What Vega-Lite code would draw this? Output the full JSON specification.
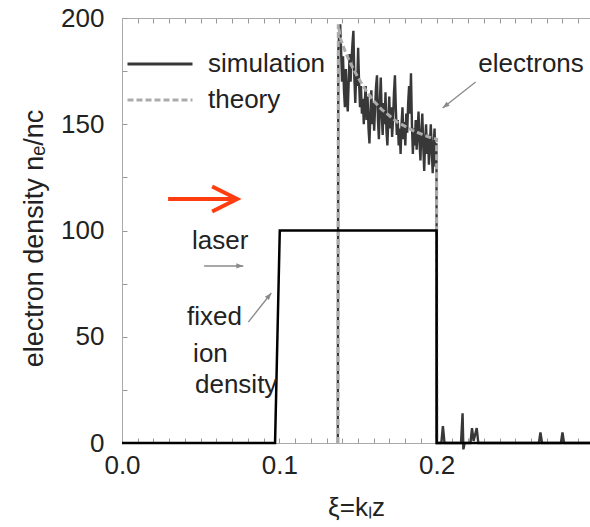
{
  "$schema": "https://vega.github.io/schema/vega-lite/v6.json",
  "width": 468,
  "height": 425,
  "autosize": {"type": "none"},
  "padding": {"left": 122, "top": 18, "right": 0, "bottom": 84},
  "background": "white",
  "config": {
    "font": "Liberation Sans",
    "view": {"stroke": null},
    "axis": {
      "labelFont": "Liberation Sans",
      "titleFont": "Liberation Sans",
      "labelFontSize": 26,
      "titleFontSize": 26,
      "titleFontWeight": "normal",
      "labelColor": "#222",
      "titleColor": "#222",
      "domainColor": "#aaaaaa",
      "tickColor": "#999999",
      "grid": false
    }
  },
  "datasets": {
    "lines": [
      {"s": "simulation", "xi": 0.1372, "n": 0},
      {"s": "simulation", "xi": 0.1375, "n": 185},
      {"s": "simulation", "xi": 0.1381, "n": 193},
      {"s": "simulation", "xi": 0.1387, "n": 197},
      {"s": "simulation", "xi": 0.1393, "n": 184},
      {"s": "simulation", "xi": 0.1399, "n": 170},
      {"s": "simulation", "xi": 0.1405, "n": 182},
      {"s": "simulation", "xi": 0.1411, "n": 166},
      {"s": "simulation", "xi": 0.1417, "n": 158},
      {"s": "simulation", "xi": 0.1423, "n": 176},
      {"s": "simulation", "xi": 0.1429, "n": 163},
      {"s": "simulation", "xi": 0.1435, "n": 156},
      {"s": "simulation", "xi": 0.1441, "n": 170},
      {"s": "simulation", "xi": 0.1447, "n": 183},
      {"s": "simulation", "xi": 0.1453, "n": 170},
      {"s": "simulation", "xi": 0.1459, "n": 180},
      {"s": "simulation", "xi": 0.1465, "n": 188},
      {"s": "simulation", "xi": 0.1471, "n": 194},
      {"s": "simulation", "xi": 0.1477, "n": 172},
      {"s": "simulation", "xi": 0.1483, "n": 160},
      {"s": "simulation", "xi": 0.1489, "n": 175},
      {"s": "simulation", "xi": 0.1495, "n": 168},
      {"s": "simulation", "xi": 0.1501, "n": 186},
      {"s": "simulation", "xi": 0.1507, "n": 170},
      {"s": "simulation", "xi": 0.1513, "n": 158},
      {"s": "simulation", "xi": 0.1519, "n": 168},
      {"s": "simulation", "xi": 0.1525, "n": 155},
      {"s": "simulation", "xi": 0.1531, "n": 162},
      {"s": "simulation", "xi": 0.1537, "n": 150},
      {"s": "simulation", "xi": 0.1543, "n": 160},
      {"s": "simulation", "xi": 0.1549, "n": 168},
      {"s": "simulation", "xi": 0.1555, "n": 152},
      {"s": "simulation", "xi": 0.1561, "n": 163},
      {"s": "simulation", "xi": 0.1567, "n": 148},
      {"s": "simulation", "xi": 0.1573, "n": 141},
      {"s": "simulation", "xi": 0.1579, "n": 155},
      {"s": "simulation", "xi": 0.1585, "n": 166},
      {"s": "simulation", "xi": 0.1591, "n": 150},
      {"s": "simulation", "xi": 0.1597, "n": 160},
      {"s": "simulation", "xi": 0.1603, "n": 147},
      {"s": "simulation", "xi": 0.1609, "n": 158},
      {"s": "simulation", "xi": 0.1615, "n": 168},
      {"s": "simulation", "xi": 0.1621, "n": 173},
      {"s": "simulation", "xi": 0.1627, "n": 152},
      {"s": "simulation", "xi": 0.1633, "n": 143},
      {"s": "simulation", "xi": 0.1639, "n": 160},
      {"s": "simulation", "xi": 0.1645, "n": 172},
      {"s": "simulation", "xi": 0.1651, "n": 155},
      {"s": "simulation", "xi": 0.1657, "n": 145},
      {"s": "simulation", "xi": 0.1663, "n": 160},
      {"s": "simulation", "xi": 0.1669, "n": 150},
      {"s": "simulation", "xi": 0.1675, "n": 165},
      {"s": "simulation", "xi": 0.1681, "n": 147},
      {"s": "simulation", "xi": 0.1687, "n": 140},
      {"s": "simulation", "xi": 0.1693, "n": 152},
      {"s": "simulation", "xi": 0.1699, "n": 163},
      {"s": "simulation", "xi": 0.1705, "n": 148},
      {"s": "simulation", "xi": 0.1711, "n": 158},
      {"s": "simulation", "xi": 0.1717, "n": 144},
      {"s": "simulation", "xi": 0.1723, "n": 152},
      {"s": "simulation", "xi": 0.1729, "n": 165},
      {"s": "simulation", "xi": 0.1735, "n": 173},
      {"s": "simulation", "xi": 0.1741, "n": 157},
      {"s": "simulation", "xi": 0.1747, "n": 145},
      {"s": "simulation", "xi": 0.1753, "n": 152},
      {"s": "simulation", "xi": 0.1759, "n": 140},
      {"s": "simulation", "xi": 0.1765, "n": 148},
      {"s": "simulation", "xi": 0.1771, "n": 136},
      {"s": "simulation", "xi": 0.1777, "n": 150},
      {"s": "simulation", "xi": 0.1783, "n": 158},
      {"s": "simulation", "xi": 0.1789, "n": 143},
      {"s": "simulation", "xi": 0.1795, "n": 151},
      {"s": "simulation", "xi": 0.1801, "n": 140},
      {"s": "simulation", "xi": 0.1807, "n": 155},
      {"s": "simulation", "xi": 0.1813, "n": 146},
      {"s": "simulation", "xi": 0.1819, "n": 160},
      {"s": "simulation", "xi": 0.1825, "n": 168},
      {"s": "simulation", "xi": 0.1831, "n": 155},
      {"s": "simulation", "xi": 0.1837, "n": 174},
      {"s": "simulation", "xi": 0.1843, "n": 150},
      {"s": "simulation", "xi": 0.1849, "n": 136},
      {"s": "simulation", "xi": 0.1855, "n": 148},
      {"s": "simulation", "xi": 0.1861, "n": 140},
      {"s": "simulation", "xi": 0.1867, "n": 152},
      {"s": "simulation", "xi": 0.1873, "n": 138},
      {"s": "simulation", "xi": 0.1879, "n": 147},
      {"s": "simulation", "xi": 0.1885, "n": 156},
      {"s": "simulation", "xi": 0.1891, "n": 142},
      {"s": "simulation", "xi": 0.1897, "n": 133},
      {"s": "simulation", "xi": 0.1903, "n": 146},
      {"s": "simulation", "xi": 0.1909, "n": 155},
      {"s": "simulation", "xi": 0.1915, "n": 140},
      {"s": "simulation", "xi": 0.1921, "n": 128},
      {"s": "simulation", "xi": 0.1927, "n": 142},
      {"s": "simulation", "xi": 0.1933, "n": 150},
      {"s": "simulation", "xi": 0.1939, "n": 136},
      {"s": "simulation", "xi": 0.1945, "n": 145},
      {"s": "simulation", "xi": 0.1951, "n": 131},
      {"s": "simulation", "xi": 0.1957, "n": 140},
      {"s": "simulation", "xi": 0.1963, "n": 150},
      {"s": "simulation", "xi": 0.1969, "n": 138},
      {"s": "simulation", "xi": 0.1975, "n": 127},
      {"s": "simulation", "xi": 0.1981, "n": 140},
      {"s": "simulation", "xi": 0.1987, "n": 148},
      {"s": "simulation", "xi": 0.1993, "n": 130},
      {"s": "simulation", "xi": 0.1999, "n": 141},
      {"s": "simulation", "xi": 0.2002, "n": 0},
      {"s": "simulation", "xi": 0.2030, "n": 0},
      {"s": "simulation", "xi": 0.2040, "n": 8},
      {"s": "simulation", "xi": 0.2050, "n": 0},
      {"s": "simulation", "xi": 0.2155, "n": 0},
      {"s": "simulation", "xi": 0.2165, "n": 14},
      {"s": "simulation", "xi": 0.2170, "n": -3},
      {"s": "simulation", "xi": 0.2178, "n": 0},
      {"s": "simulation", "xi": 0.2215, "n": 0},
      {"s": "simulation", "xi": 0.2225, "n": 7},
      {"s": "simulation", "xi": 0.2235, "n": 1},
      {"s": "simulation", "xi": 0.2255, "n": 7},
      {"s": "simulation", "xi": 0.2265, "n": 0},
      {"s": "simulation", "xi": 0.2650, "n": 0},
      {"s": "simulation", "xi": 0.2660, "n": 5},
      {"s": "simulation", "xi": 0.2670, "n": 0},
      {"s": "simulation", "xi": 0.2790, "n": 0},
      {"s": "simulation", "xi": 0.2800, "n": 5},
      {"s": "simulation", "xi": 0.2810, "n": 0},
      {"s": "simulation", "xi": 0.2975, "n": 0},
      {"s": "theory", "xi": 0.1373, "n": 0},
      {"s": "theory", "xi": 0.1375, "n": 197},
      {"s": "theory", "xi": 0.1390, "n": 190},
      {"s": "theory", "xi": 0.1420, "n": 184},
      {"s": "theory", "xi": 0.1450, "n": 179},
      {"s": "theory", "xi": 0.1500, "n": 172},
      {"s": "theory", "xi": 0.1550, "n": 166},
      {"s": "theory", "xi": 0.1600, "n": 161},
      {"s": "theory", "xi": 0.1650, "n": 157},
      {"s": "theory", "xi": 0.1700, "n": 154},
      {"s": "theory", "xi": 0.1750, "n": 151},
      {"s": "theory", "xi": 0.1800, "n": 149},
      {"s": "theory", "xi": 0.1850, "n": 147},
      {"s": "theory", "xi": 0.1900, "n": 145.5},
      {"s": "theory", "xi": 0.1950, "n": 144},
      {"s": "theory", "xi": 0.2000, "n": 143},
      {"s": "theory", "xi": 0.2001, "n": 0},
      {"s": "ion", "xi": 0.0, "n": 0},
      {"s": "ion", "xi": 0.0973, "n": 0},
      {"s": "ion", "xi": 0.1003, "n": 100},
      {"s": "ion", "xi": 0.2, "n": 100},
      {"s": "ion", "xi": 0.2, "n": 0},
      {"s": "ion", "xi": 0.2975, "n": 0}
    ],
    "arrows": [
      {"a": "laser", "x1": 0.0522, "y1": 83.3, "x2": 0.0771, "y2": 83.3},
      {"a": "fixed", "x1": 0.0803, "y1": 56.9, "x2": 0.0949, "y2": 70.6},
      {"a": "electrons", "x1": 0.2248, "y1": 169.9, "x2": 0.2038, "y2": 157.6}
    ],
    "red": [
      {"a": "incident", "x1": 0.0293, "y1": 114.8, "x2": 0.0732, "y2": 114.8}
    ],
    "labels": [
      {"t": "electrons", "xi": 0.2265, "n": 174.6},
      {"t": "laser", "xi": 0.0445, "n": 91.3},
      {"t": "fixed", "xi": 0.0413, "n": 55.5},
      {"t": "ion", "xi": 0.0452, "n": 38.1},
      {"t": "density", "xi": 0.0464, "n": 23.5}
    ]
  },
  "resolve": {"axis": {"x": "independent"}},
  "layer": [
    {
      "data": {"name": "lines"},
      "transform": [{"filter": "datum.s == 'simulation'"}],
      "mark": {"type": "line", "strokeWidth": 2.4, "clip": false},
      "encoding": {
        "x": {
          "field": "xi", "type": "quantitative",
          "scale": {"domain": [0, 0.2975], "nice": false, "zero": false},
          "axis": {
            "orient": "bottom",
            "values": [0,0.01,0.02,0.03,0.04,0.05,0.06,0.07,0.08,0.09,0.1,0.11,0.12,0.13,0.14,0.15,0.16,0.17,0.18,0.19,0.2,0.21,0.22,0.23,0.24,0.25,0.26,0.27,0.28,0.29],
            "labelExpr": "abs(datum.value*10 - round(datum.value*10)) < 0.001 ? format(datum.value, '.1f') : ''",
            "tickSize": -5,
            "labelPadding": 14,
            "labelFlush": false,
            "labelOverlap": false,
            "title": "ξ=kₗz",
            "titlePadding": 16
          }
        },
        "y": {
          "field": "n", "type": "quantitative",
          "scale": {"domain": [0, 200], "nice": false},
          "axis": {
            "values": [0,25,50,75,100,125,150,175,200],
            "labelExpr": "datum.value % 50 == 0 ? datum.label : ''",
            "tickSize": -5,
            "labelPadding": 23,
            "labelFlush": false,
            "labelOverlap": false,
            "title": "electron density nₑ/nc",
            "titleFontSize": 27,
            "titleY": 220,
            "titlePadding": 12
          }
        },
        "color": {
          "field": "s", "type": "nominal",
          "scale": {"domain": ["simulation", "theory"], "range": ["#383838", "#ababab"]},
          "legend": {
            "title": null,
            "orient": "none",
            "legendX": 4,
            "legendY": 28,
            "symbolType": "stroke",
            "symbolSize": 4225,
            "symbolStrokeWidth": 3,
            "labelFontSize": 26,
            "labelFont": "Liberation Sans",
            "labelColor": "#222",
            "labelOffset": 14,
            "clipHeight": 36,
            "rowPadding": 0,
            "padding": 0,
            "labelLimit": 300
          }
        },
        "strokeDash": {
          "field": "s", "type": "nominal",
          "scale": {"domain": ["simulation", "theory"], "range": [[1, 0], [6, 3]]},
          "legend": {
            "title": null,
            "orient": "none",
            "legendX": 4,
            "legendY": 28,
            "symbolType": "stroke",
            "symbolSize": 4225,
            "symbolStrokeWidth": 3,
            "labelFontSize": 26,
            "labelFont": "Liberation Sans",
            "labelColor": "#222",
            "labelOffset": 14,
            "clipHeight": 36,
            "rowPadding": 0,
            "padding": 0,
            "labelLimit": 300
          }
        },
        "order": {"value": null}
      }
    },
    {
      "data": {"name": "lines"},
      "transform": [{"filter": "datum.s == 'theory'"}],
      "mark": {"type": "line", "strokeWidth": 3},
      "encoding": {
        "x": {"field": "xi", "type": "quantitative", "axis": null},
        "y": {"field": "n", "type": "quantitative"},
        "color": {"field": "s", "type": "nominal"},
        "strokeDash": {"field": "s", "type": "nominal"},
        "order": {"value": null}
      }
    },
    {
      "data": {"name": "lines"},
      "transform": [{"filter": "datum.s == 'ion'"}],
      "mark": {"type": "line", "strokeWidth": 2.5, "color": "#000000"},
      "encoding": {
        "x": {
          "field": "xi", "type": "quantitative",
          "axis": {
            "orient": "top",
            "values": [0,0.01,0.02,0.03,0.04,0.05,0.06,0.07,0.08,0.09,0.1,0.11,0.12,0.13,0.14,0.15,0.16,0.17,0.18,0.19,0.2,0.21,0.22,0.23,0.24,0.25,0.26,0.27,0.28,0.29],
            "labels": false,
            "tickSize": -5,
            "title": null
          }
        },
        "y": {"field": "n", "type": "quantitative"},
        "order": {"value": null}
      }
    },
    {
      "data": {"name": "arrows"},
      "mark": {"type": "rule", "color": "#8a8a8a", "strokeWidth": 1.3},
      "encoding": {
        "x": {"field": "x1", "type": "quantitative", "axis": null},
        "y": {"field": "y1", "type": "quantitative"},
        "x2": {"field": "x2"},
        "y2": {"field": "y2"}
      }
    },
    {
      "data": {"name": "arrows"},
      "transform": [{"calculate": "atan2(-(datum.y2 - datum.y1) * 2.125, (datum.x2 - datum.x1) * 1572) * 180 / PI", "as": "ang"}],
      "mark": {"type": "point", "shape": "M0,0L-2,-0.75L-2,0.75Z", "filled": true, "color": "#8a8a8a", "size": 49, "opacity": 1},
      "encoding": {
        "x": {"field": "x2", "type": "quantitative", "axis": null},
        "y": {"field": "y2", "type": "quantitative"},
        "angle": {"field": "ang", "type": "quantitative", "scale": null}
      }
    },
    {
      "data": {"name": "red"},
      "mark": {"type": "rule", "color": "#ff3d10", "strokeWidth": 4},
      "encoding": {
        "x": {"field": "x1", "type": "quantitative", "axis": null},
        "y": {"field": "y1", "type": "quantitative"},
        "x2": {"field": "x2"},
        "y2": {"field": "y2"}
      }
    },
    {
      "data": {"name": "red"},
      "mark": {"type": "point", "shape": "M-2,-1L0,0L-2,1", "filled": false, "color": "#ff3d10", "strokeWidth": 4, "size": 625, "opacity": 1, "strokeJoin": "miter"},
      "encoding": {
        "x": {"field": "x2", "type": "quantitative", "axis": null},
        "y": {"field": "y2", "type": "quantitative"}
      }
    },
    {
      "data": {"name": "labels"},
      "mark": {"type": "text", "align": "left", "baseline": "alphabetic", "fontSize": 26, "font": "Liberation Sans", "color": "#222"},
      "encoding": {
        "x": {"field": "xi", "type": "quantitative", "axis": null},
        "y": {"field": "n", "type": "quantitative"},
        "text": {"field": "t"}
      }
    }
  ]
}
